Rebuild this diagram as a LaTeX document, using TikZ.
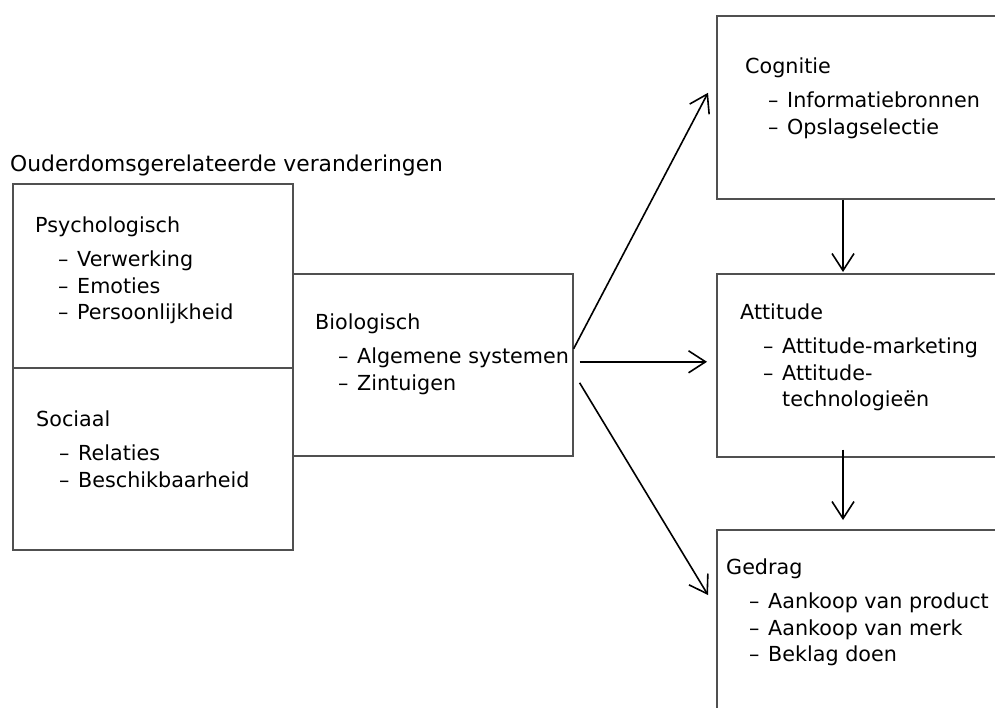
\documentclass[tikz,border=0pt]{standalone}
\usepackage{fontspec}
\setmainfont{DejaVu Sans}
\usetikzlibrary{arrows.meta,positioning}
\definecolor{BoxGray}{RGB}{80,80,80}
\newcommand{\itm}[1]{\hspace*{23pt}\makebox[19pt][l]{–}#1}

\begin{document}
\begin{tikzpicture}[x=1pt,y=-1pt,
  box/.style={draw=BoxGray,line width=1.6pt,anchor=north west,inner sep=0pt},
  txt/.style={anchor=north west,inner sep=0pt,align=left,
              font=\fontsize{20.7}{26.5}\selectfont},
  arr/.style={-{Straight Barb[length=17pt,width=22pt]},line width=1.6pt},
]
\useasboundingbox (0,0) rectangle (995,707);
\clip (0,0) rectangle (995,707);
% boxes
\node[box,minimum width=280pt,minimum height=184pt] (psych) at (12,183) {};
\node[box,minimum width=280pt,minimum height=182pt] (soc) at (12,367) {};
\node[box,minimum width=280pt,minimum height=182pt] (bio) at (292,273) {};
\node[box,minimum width=300pt,minimum height=183pt] (cog) at (716,15) {};
\node[box,minimum width=300pt,minimum height=183pt] (att) at (716,273) {};
\node[box,minimum width=300pt,minimum height=200pt] (ged) at (716,529) {};
% texts
\node[txt,font=\fontsize{21.8}{26.5}\selectfont] (title) at (10,155)
  {Ouderdomsgerelateerde veranderingen};
\node[txt] (psychtxt) at (35,217)
  {Psychologisch\\[7.5pt]\itm{Verwerking}\\\itm{Emoties}\\\itm{Persoonlijkheid}};
\node[txt] (soctxt) at (36,411)
  {Sociaal\\[7.5pt]\itm{Relaties}\\\itm{Beschikbaarheid}};
\node[txt] (biotxt) at (315,314)
  {Biologisch\\[7.5pt]\itm{Algemene systemen}\\\itm{Zintuigen}};
\node[txt] (cogtxt) at (745,58)
  {Cognitie\\[7.5pt]\itm{Informatiebronnen}\\\itm{Opslagselectie}};
\node[txt] (atttxt) at (740,304)
  {Attitude\\[7.5pt]\itm{Attitude-marketing}\\\itm{Attitude-}\\\hspace*{42pt}technologieën};
\node[txt] (gedtxt) at (726,559)
  {Gedrag\\[7.5pt]\itm{Aankoop van product}\\\itm{Aankoop van merk}\\\itm{Beklag doen}};
% arrows
\coordinate (vline) at (843,0);
\draw[arr] ([yshift=16pt]bio.east) -- ([xshift=-8pt,yshift=14.5pt]cog.west);
\draw[arr] ([xshift=6pt,yshift=3pt]bio.east) -- ([xshift=-9pt,yshift=3pt]bio.east -| att.west);
\draw[arr] ([xshift=6pt,yshift=-18pt]bio.east) -- ([xshift=-8pt,yshift=-66pt]ged.north west);
\draw[arr] (cog.south -| vline) -- ([yshift=1pt]att.north -| vline);
\draw[arr] ([yshift=8pt]att.south -| vline) -- ([yshift=9pt]ged.north -| vline);
\end{tikzpicture}
\end{document}
